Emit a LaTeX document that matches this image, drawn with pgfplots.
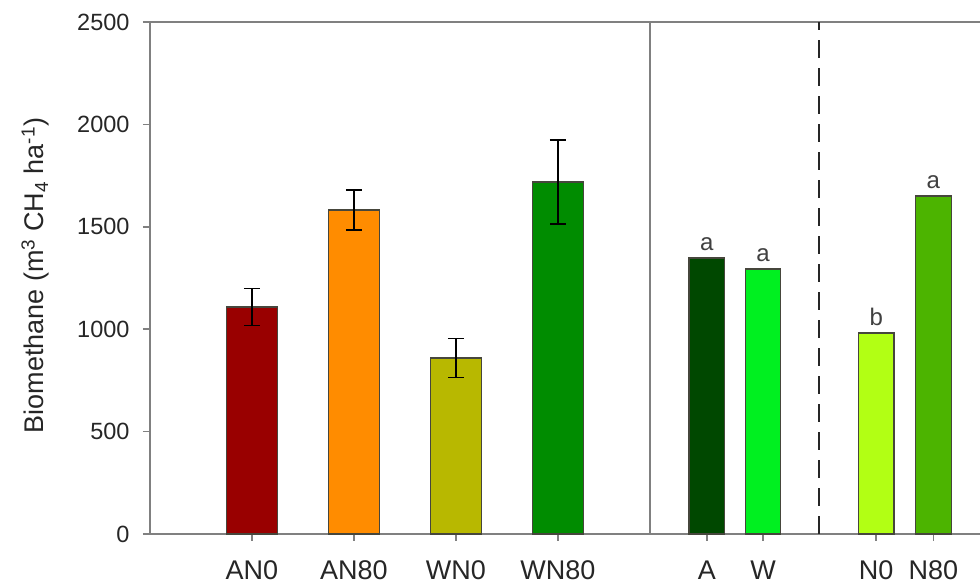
\documentclass[border=0pt]{standalone}
\usepackage{pgfplots}
\pgfplotsset{compat=1.18}
\usetikzlibrary{calc}
\usepackage{fontspec}
\setmainfont{Liberation Sans}
\definecolor{cAN0}{RGB}{153,0,0}
\definecolor{cAN80}{RGB}{255,140,0}
\definecolor{cWN0}{RGB}{184,184,0}
\definecolor{cWN80}{RGB}{0,140,0}
\definecolor{cA}{RGB}{0,72,0}
\definecolor{cW}{RGB}{0,240,32}
\definecolor{cN0}{RGB}{178,255,20}
\definecolor{cN80}{RGB}{76,180,0}
\definecolor{axgray}{RGB}{128,128,128}
\definecolor{edge}{RGB}{70,70,60}
\begin{document}
\begin{tikzpicture}
\begin{axis}[
  scale only axis,
  width=856.8pt, height=512pt,
  xmin=0, xmax=8.4, ymin=0, ymax=2500,
  axis lines=box,
  axis line style={axgray, line width=2pt},
  ytick={0,500,1000,1500,2000,2500},
  xtick={1,2,3,4,5.46,6.01,7.12,7.68},
  xticklabels={AN0,AN80,WN0,WN80,A,W,N0,N80},
  xtick pos=bottom, ytick pos=left,
  tick align=outside,
  major tick length=7pt,
  tick style={axgray, line width=1.5pt},
  /pgf/number format/assume math mode=true,
  /pgf/number format/1000 sep={},
  yticklabel style={font=\fontsize{23.5}{27}\selectfont, color=black!85, xshift=-10pt},
  xticklabel style={font=\fontsize{27}{32}\selectfont, color=black!85, yshift=-16pt},
  ylabel={Biomethane (m\textsuperscript{3} CH\textsubscript{4} ha\textsuperscript{-1})},
  ylabel style={font=\fontsize{27}{32}\selectfont, color=black!85},
  every axis y label/.append style={at={(ticklabel cs:0.505)}, anchor=south, yshift=21pt},
  ybar, bar shift=0pt,
  error bars/error bar style={black, line width=1.5pt},
  error bars/error mark options={black, line width=1.5pt, mark size=8pt, rotate=90},
  clip=false,
]
\coordinate (O) at (rel axis cs:0,0);
% separators
\addplot[ybar=false, sharp plot, axgray, line width=2pt, forget plot] coordinates {(4.90,0) (4.90,2500)};
\addplot[ybar=false, sharp plot, black!85, line width=2.2pt, dash pattern=on 18pt off 10pt, forget plot] coordinates {(6.56,0) (6.56,2500)};
% bars with error bars
\addplot[fill=cAN0, draw=edge, line width=1.2pt, bar width=0.5,
  error bars/.cd, y dir=both, y explicit] coordinates {(1,1108) +- (0,90)};
\addplot[fill=cAN80, draw=edge, line width=1.2pt, bar width=0.5,
  error bars/.cd, y dir=both, y explicit] coordinates {(2,1582) +- (0,97)};
\addplot[fill=cWN0, draw=edge, line width=1.2pt, bar width=0.5,
  error bars/.cd, y dir=both, y explicit] coordinates {(3,859) +- (0,95)};
\addplot[fill=cWN80, draw=edge, line width=1.2pt, bar width=0.5,
  error bars/.cd, y dir=both, y explicit] coordinates {(4,1719) +- (0,205)};
% main effects with letters
\addplot[fill=cA, draw=edge, line width=1.2pt, bar width=0.35,
  nodes near coords, point meta=explicit symbolic,
  every node near coord/.append style={font=\fontsize{24}{28}\selectfont, color=black!75, yshift=3pt}]
  coordinates {(5.46,1348) [a]};
\addplot[fill=cW, draw=edge, line width=1.2pt, bar width=0.35,
  nodes near coords, point meta=explicit symbolic,
  every node near coord/.append style={font=\fontsize{24}{28}\selectfont, color=black!75, yshift=3pt}]
  coordinates {(6.01,1294) [a]};
\addplot[fill=cN0, draw=edge, line width=1.2pt, bar width=0.35,
  nodes near coords, point meta=explicit symbolic,
  every node near coord/.append style={font=\fontsize{24}{28}\selectfont, color=black!75, yshift=3pt}]
  coordinates {(7.12,981) [b]};
\addplot[fill=cN80, draw=edge, line width=1.2pt, bar width=0.35,
  nodes near coords, point meta=explicit symbolic,
  every node near coord/.append style={font=\fontsize{24}{28}\selectfont, color=black!75, yshift=3pt}]
  coordinates {(7.68,1650) [a]};
\end{axis}
\pgfresetboundingbox
\useasboundingbox ($(O)+(-150pt,-54pt)$) rectangle ($(O)+(830pt,534pt)$);
\end{tikzpicture}
\end{document}
